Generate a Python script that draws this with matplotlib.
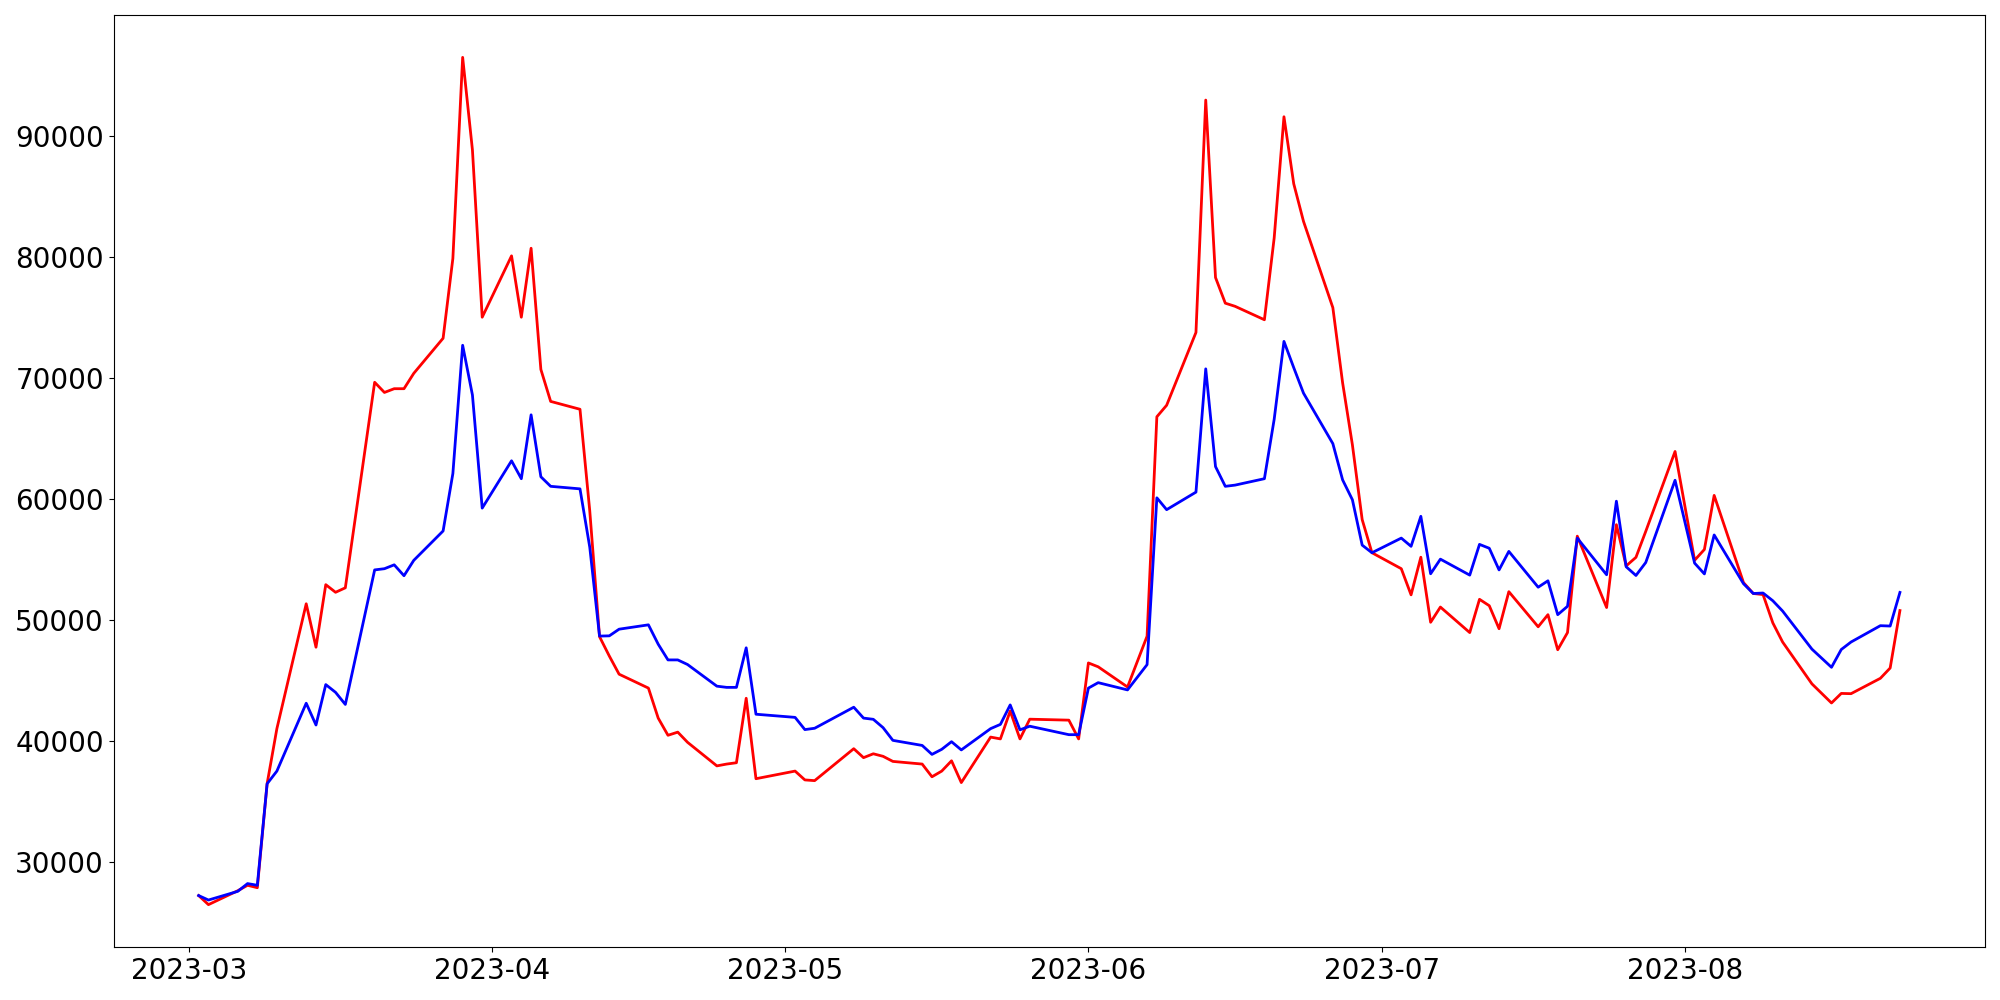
import matplotlib
matplotlib.use("Agg")
import matplotlib.pyplot as plt
import matplotlib.dates as mdates
import pandas as pd

# trading days
dates = [
    "2023-03-02", "2023-03-03", "2023-03-06", "2023-03-07", "2023-03-08", "2023-03-09", "2023-03-10",
    "2023-03-13", "2023-03-14", "2023-03-15", "2023-03-16", "2023-03-17",
    "2023-03-20", "2023-03-21", "2023-03-22", "2023-03-23", "2023-03-24",
    "2023-03-27", "2023-03-28", "2023-03-29", "2023-03-30", "2023-03-31",
    "2023-04-03", "2023-04-04", "2023-04-05", "2023-04-06", "2023-04-07",
    "2023-04-10", "2023-04-11", "2023-04-12", "2023-04-13", "2023-04-14",
    "2023-04-17", "2023-04-18", "2023-04-19", "2023-04-20", "2023-04-21",
    "2023-04-24", "2023-04-25", "2023-04-26", "2023-04-27", "2023-04-28",
    "2023-05-02", "2023-05-03", "2023-05-04",
    "2023-05-08", "2023-05-09", "2023-05-10", "2023-05-11", "2023-05-12",
    "2023-05-15", "2023-05-16", "2023-05-17", "2023-05-18", "2023-05-19",
    "2023-05-22", "2023-05-23", "2023-05-24", "2023-05-25", "2023-05-26",
    "2023-05-30", "2023-05-31", "2023-06-01", "2023-06-02",
    "2023-06-05", "2023-06-07", "2023-06-08", "2023-06-09",
    "2023-06-12", "2023-06-13", "2023-06-14", "2023-06-15", "2023-06-16",
    "2023-06-19", "2023-06-20", "2023-06-21", "2023-06-22", "2023-06-23",
    "2023-06-26", "2023-06-27", "2023-06-28", "2023-06-29", "2023-06-30",
    "2023-07-03", "2023-07-04", "2023-07-05", "2023-07-06", "2023-07-07",
    "2023-07-10", "2023-07-11", "2023-07-12", "2023-07-13", "2023-07-14",
    "2023-07-17", "2023-07-18", "2023-07-19", "2023-07-20", "2023-07-21",
    "2023-07-24", "2023-07-25", "2023-07-26", "2023-07-27", "2023-07-28",
    "2023-07-31", "2023-08-02", "2023-08-03", "2023-08-04",
    "2023-08-07", "2023-08-08", "2023-08-09", "2023-08-10", "2023-08-11",
    "2023-08-14", "2023-08-16", "2023-08-17", "2023-08-18",
    "2023-08-21", "2023-08-22", "2023-08-23",
]

red_values = [
    27200, 26450, 27600, 28050, 27850, 36440, 41000,
    51320, 47730, 52900, 52270, 52640,
    69630, 68790, 69100, 69100, 70370,
    73270, 79870, 96490, 88840, 75010,
    80080, 75010, 80710, 70690, 68050,
    67400, 59000, 48600, 47000, 45500,
    44350, 41870, 40450, 40710, 39870,
    37920, 38070, 38180, 43510, 36860,
    37490, 36760, 36700,
    39340, 38600, 38920, 38710, 38290,
    38070, 37020, 37490, 38340, 36540,
    40300, 40150, 42450, 40150, 41780,
    41700, 40150, 46430, 46110,
    44440, 48640, 66780, 67730,
    73750, 92960, 78290, 76170, 75910,
    74800, 81560, 91580, 86040, 82930,
    75800, 69580, 64460, 58280, 55540,
    54220, 52060, 55170, 49790, 51050,
    48940, 51690, 51160, 49260, 52320,
    49420, 50420, 47520, 48940, 56910,
    51010, 57860, 54450, 55160, 57300,
    63910, 54920, 55810, 60280,
    53070, 52170, 52080, 49740, 48160,
    44700, 43120, 43910, 43890,
    45160, 46010, 50760,
]

blue_values = [
    27200, 26830, 27550, 28190, 28050, 36440, 37490,
    43100, 41300, 44640, 44000, 43000,
    54120, 54220, 54540, 53640, 54910,
    57340, 62090, 72690, 68580, 59230,
    63140, 61660, 66940, 61820, 61030,
    60820, 56000, 48650, 48670, 49220,
    49580, 47980, 46680, 46680, 46300,
    44510, 44410, 44410, 47680, 42190,
    41930, 40920, 41030,
    42770, 41870, 41770, 41080, 40030,
    39610, 38870, 39290, 39920, 39240,
    41000, 41350, 42960, 40900, 41200,
    40500, 40500, 44350, 44800,
    44200, 46290, 60080, 59100,
    60550, 70740, 62660, 61030, 61130,
    61660, 66570, 73010, 70840, 68730,
    64560, 61560, 59920, 56170, 55540,
    56750, 56070, 58550, 53800, 55010,
    53690, 56230, 55910, 54120, 55650,
    52690, 53220, 50420, 51110, 56750,
    53720, 59800, 54380, 53660, 54730,
    61530, 54680, 53790, 57010,
    52980, 52170, 52210, 51570, 50720,
    47570, 46070, 47540, 48160,
    49510, 49480, 52260,
]

x = pd.to_datetime(dates)

fig = plt.figure(figsize=(20, 10), dpi=100)
ax = fig.add_subplot(111)
fig.subplots_adjust(left=0.0568, right=0.9925, bottom=0.053, top=0.985)

ax.plot(x, red_values, color='red', linewidth=2)
ax.plot(x, blue_values, color='blue', linewidth=2)

ax.xaxis.set_major_locator(mdates.MonthLocator())
ax.xaxis.set_major_formatter(mdates.DateFormatter('%Y-%m'))
ax.tick_params(axis='both', labelsize=20)

fig.savefig('out.png', dpi=100)
